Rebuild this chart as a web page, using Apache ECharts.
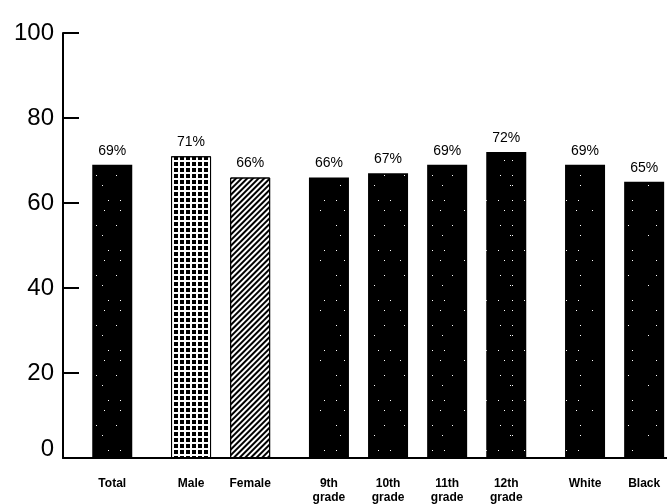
<!DOCTYPE html>
<html>
<head>
<meta charset="utf-8">
<script src="https://cdn.jsdelivr.net/npm/echarts@6/dist/echarts.min.js"></script>
<style>
html,body{margin:0;padding:0;background:#fff;}
#chart{width:667px;height:504px;}
</style>
</head>
<body>
<div id="chart"></div>
<script>
// ---- data ----
const categories = ['Total', 'Male', 'Female', '9th\ngrade', '10th\ngrade', '11th\ngrade', '12th\ngrade', 'White', 'Black'];
const values = [69, 71, 66, 66, 67, 69, 72, 69, 65];
const yTicks = [0, 20, 40, 60, 80, 100];

// ---- layout (empty slots before each bar, and after the last) ----
const gapsBefore = [2, 3, 2, 3, 2, 2, 2, 3, 2];
const gapsAfter = 1;

const BLACK_SPECKLE = {
  symbol: 'rect', symbolSize: 1, color: '#ffffff',
  dashArrayX: [[1, 19, 1, 27], [1, 33], [1, 11, 1, 41], [1, 23, 1, 15]],
  dashArrayY: [1, 9, 1, 14]
};
const GRID_DECAL = {
  symbol: 'rect', symbolSize: 1, color: '#000000',
  dashArrayX: [4, 1.5], dashArrayY: [3.5, 1.5]
};
const HATCH_DECAL = {
  symbol: 'rect', symbolSize: 1, color: '#000000',
  dashArrayX: [1, 0], dashArrayY: [1.8, 2], rotation: -Math.PI / 4
};

const slotLabels = [];
const slotData = [];
categories.forEach((c, i) => {
  for (let g = 0; g < gapsBefore[i]; g++) { slotLabels.push(''); slotData.push(null); }
  slotLabels.push(c);
  let style;
  if (c === 'Male') style = { color: '#ffffff', borderColor: '#000', borderWidth: 1, decal: GRID_DECAL };
  else if (c === 'Female') style = { color: '#ffffff', borderColor: '#000', borderWidth: 1, decal: HATCH_DECAL };
  else style = { color: '#000000', decal: BLACK_SPECKLE };
  slotData.push({ value: values[i], itemStyle: style });
});
for (let g = 0; g < gapsAfter; g++) { slotLabels.push(''); slotData.push(null); }

const chart = echarts.init(document.getElementById('chart'), null, { renderer: 'canvas' });
const FONT = 'Liberation Sans, Arial, Helvetica, sans-serif';
const SLOT = 19.7;
chart.setOption({
  animation: false,
  backgroundColor: '#ffffff',
  grid: {
    left: 63, width: SLOT * slotLabels.length, top: 33, bottom: 46,
    containLabel: false, outerBoundsMode: 'none'
  },
  xAxis: {
    type: 'category',
    data: slotLabels,
    boundaryGap: true,
    axisLine: { show: true, lineStyle: { color: '#000', width: 2 } },
    axisTick: { show: false },
    axisLabel: {
      interval: 0, color: '#000', fontSize: 12, fontWeight: 'bold',
      fontFamily: FONT, margin: 19, lineHeight: 14
    },
    splitLine: { show: false }
  },
  yAxis: {
    type: 'value',
    min: yTicks[0], max: yTicks[yTicks.length - 1], interval: 20,
    axisLine: { show: true, lineStyle: { color: '#000', width: 2 } },
    axisTick: { show: true, inside: true, length: 16, lineStyle: { color: '#000', width: 2 } },
    axisLabel: {
      color: '#000', fontSize: 24, fontFamily: FONT, margin: 9,
      formatter: v => v === 0 ? '{z|0}' : String(v),
      rich: { z: { fontSize: 24, fontFamily: FONT, color: '#000', padding: [0, 0, 18, 0] } }
    },
    splitLine: { show: false }
  },
  series: [{
    type: 'bar',
    data: slotData,
    barWidth: 40,
    label: {
      show: true, position: 'top', distance: 7,
      formatter: '{c}%', color: '#000', fontSize: 14, fontFamily: FONT
    }
  }]
});
</script>
</body>
</html>
